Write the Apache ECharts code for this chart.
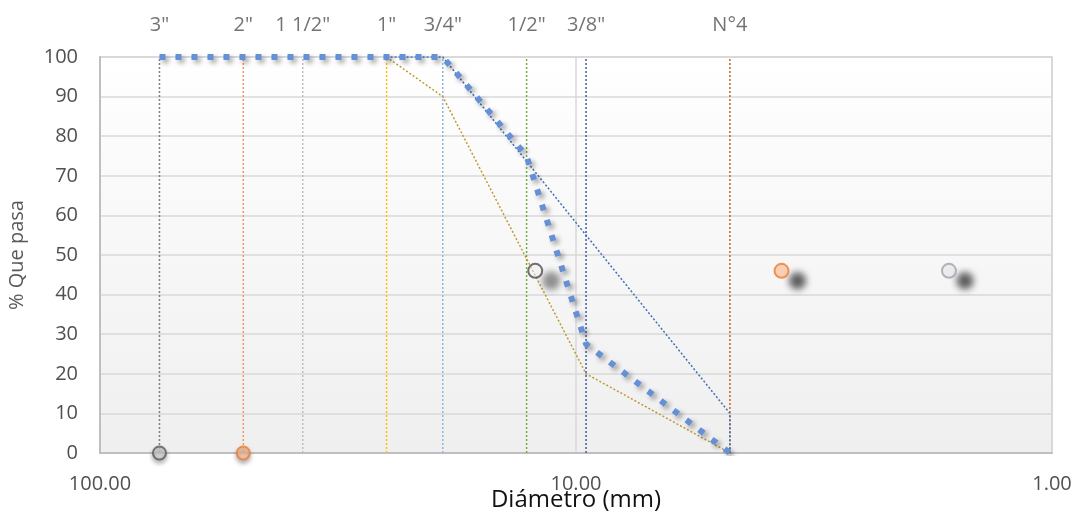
<!DOCTYPE html>
<html>
<head>
<meta charset="utf-8">
<script src="https://cdn.jsdelivr.net/npm/echarts@6/dist/echarts.min.js"></script>
<style>html,body{margin:0;padding:0;background:#fff}#c{width:1080px;height:515px}</style>
</head>
<body>
<div id="c"></div>
<script>
// ---- data ----
const sieveNames = ['3"', '2"', '1 1/2"', '1"', '3/4"', '1/2"', '3/8"', 'N°4'];
const sieveSizes = [75, 50, 37.5, 25, 19.05, 12.7, 9.525, 4.75];
const passing = [100, 100, 100, 100, 100, 75, 27.5, 0];
const upperSizes = [25, 19.05, 9.525, 4.75, 4.75];
const upperValues = [100, 100, 55, 10, 0];
const lowerSizes = [25, 19.05, 9.525, 4.75];
const lowerValues = [100, 90, 20, 0];
const baseMarkX = [75, 50];
const baseMarkY = [0, 0];
const floatMarkX = [12.18, 3.70, 1.646];
const floatMarkY = [46, 46, 46];
const yTicks = [0, 10, 20, 30, 40, 50, 60, 70, 80, 90, 100];

// ---- styles ----
const sieveColors = ['#7F7F7F', '#F0995E', '#BFBFBF', '#FFC000', '#8FB4E3', '#70AD47', '#3A5DA8', '#C0642A'];
const FONT = '"Open Sans", sans-serif';

const series = [];
sieveSizes.forEach((d, i) => {
  series.push({
    type: 'line', name: sieveNames[i],
    data: [[d, 0], [d, 100]],
    symbol: 'none', silent: true,
    lineStyle: { color: sieveColors[i], width: 1.5, type: [2, 2] },
    z: 2
  });
});
series.push({
  type: 'scatter', name: 'labels',
  data: sieveSizes.map((d, i) => ({ value: [d, 100], name: sieveNames[i] })),
  symbolSize: 1, itemStyle: { color: 'transparent' },
  label: { show: true, position: 'top', distance: 21, formatter: p => p.name, color: '#505050', fontSize: 20, fontFamily: FONT },
  clip: false, z: 1
});
series.push({
  type: 'line', name: 'upper',
  data: upperSizes.map((d, i) => [d, upperValues[i]]),
  symbol: 'none',
  lineStyle: { color: '#3F6FB5', width: 1.5, type: [2, 2] },
  z: 3
});
series.push({
  type: 'line', name: 'lower',
  data: lowerSizes.map((d, i) => [d, lowerValues[i]]),
  symbol: 'none',
  lineStyle: { color: '#BF9A33', width: 1.5, type: [2, 2] },
  z: 3
});
series.push({
  type: 'line', name: 'passing',
  data: sieveSizes.map((d, i) => [d, passing[i]]),
  symbol: 'none',
  lineStyle: { color: '#6690D6', width: 6, type: [6, 10], cap: 'butt',
    shadowColor: 'rgba(0,0,0,0.4)', shadowBlur: 5, shadowOffsetX: 3, shadowOffsetY: 3 },
  z: 4
});
const baseStyles = [
  { color: '#D6D6D6', borderColor: '#595959' },
  { color: '#FAC4A2', borderColor: '#ED7D31' }
];
series.push({
  type: 'scatter', name: 'base',
  data: baseMarkX.map((d, i) => ({ value: [d, baseMarkY[i]], itemStyle: baseStyles[i] })),
  symbolSize: 13, clip: false,
  itemStyle: { borderWidth: 2, shadowColor: 'rgba(0,0,0,0.35)', shadowBlur: 4, shadowOffsetY: 3 },
  z: 5
});
const floatStyles = [
  { color: 'rgba(240,240,240,0.6)', borderColor: '#4D4D4D' },
  { color: '#FBC6A6', borderColor: '#ED7D31' },
  { color: '#E8E8E8', borderColor: '#9EA3AE' }
];
series.push({
  type: 'scatter', name: 'float',
  data: floatMarkX.map((d, i) => ({ value: [d, floatMarkY[i]], itemStyle: floatStyles[i] })),
  symbolSize: 14, clip: false,
  itemStyle: { borderWidth: 2, shadowColor: 'rgba(0,0,0,0.8)', shadowBlur: 7, shadowOffsetX: 16, shadowOffsetY: 10 },
  z: 5
});

const chart = echarts.init(document.getElementById('c'), null, { renderer: 'canvas' });
chart.setOption({
  animation: false,
  backgroundColor: '#ffffff',
  grid: {
    left: 100, right: 28, top: 57, bottom: 62,
    outerBoundsMode: 'none', containLabel: false,
    show: true, borderColor: '#D0D0D0', borderWidth: 1.5,
    backgroundColor: { type: 'linear', x: 0, y: 0, x2: 0, y2: 1,
      colorStops: [{ offset: 0, color: '#FFFFFF' }, { offset: 1, color: '#EFEFEF' }] }
  },
  xAxis: {
    type: 'log', logBase: 10, min: 1, max: 100, inverse: true,
    name: 'Diámetro (mm)', nameLocation: 'middle', nameGap: 35, nameMoveOverlap: false,
    nameTextStyle: { fontSize: 24, color: '#111111', fontFamily: FONT },
    axisLine: { show: true, lineStyle: { color: '#BFBFBF', width: 2 } },
    axisTick: { show: false },
    splitLine: { show: true, lineStyle: { color: '#D9D9D9', width: 1.5 } },
    axisLabel: { formatter: v => Number(v).toFixed(2), fontSize: 20, color: '#505050', margin: 21, fontFamily: FONT }
  },
  yAxis: {
    type: 'value', min: yTicks[0], max: yTicks[yTicks.length - 1], interval: 10,
    name: '% Que pasa', nameLocation: 'middle', nameGap: 73, nameMoveOverlap: false,
    nameTextStyle: { fontSize: 20, color: '#595959', fontFamily: FONT },
    axisLine: { show: true, lineStyle: { color: '#BFBFBF', width: 2 } },
    axisTick: { show: false },
    splitLine: { show: true, lineStyle: { color: '#D9D9D9', width: 1.5 } },
    axisLabel: { fontSize: 20, color: '#505050', margin: 22, fontFamily: FONT }
  },
  series: series
});
</script>
</body>
</html>
